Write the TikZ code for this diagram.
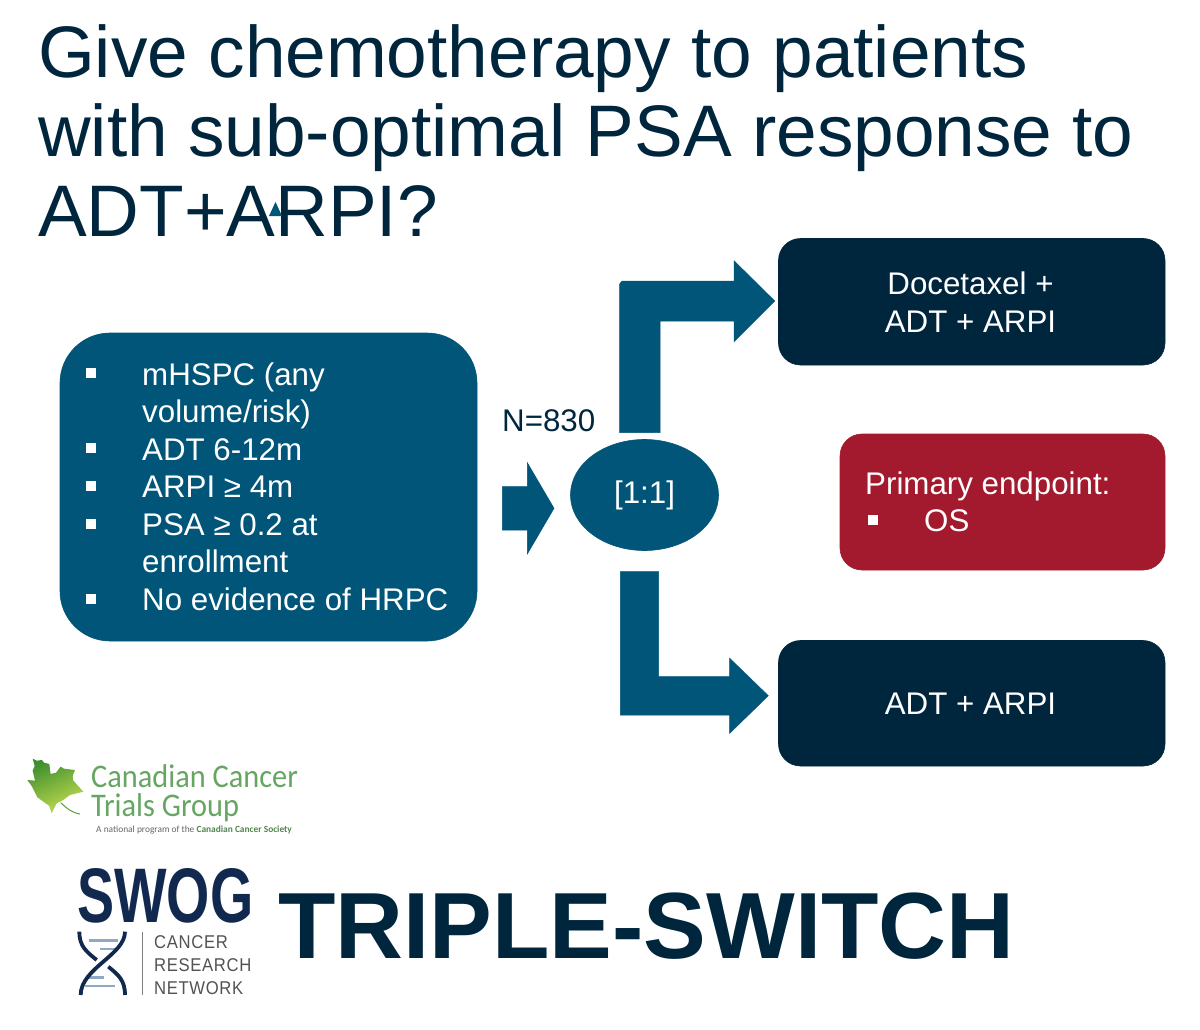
\documentclass[tikz,border=0pt]{standalone}
\usepackage{fontspec}
\usepackage{graphicx}
\setmainfont{Liberation Sans}
\newfontfamily\logofont{Carlito}
\newfontfamily\netfont[LetterSpace=4]{Liberation Sans}
\usetikzlibrary{shapes.geometric}
\definecolor{navy}{HTML}{00263E}
\definecolor{swognavy}{HTML}{12294F}
\definecolor{teal}{HTML}{005578}
\definecolor{crimson}{HTML}{A31A2E}
\definecolor{leafgreen}{HTML}{66A663}
\definecolor{leafdark}{HTML}{3F8F2E}
\definecolor{leaflight}{HTML}{C4DC50}
\definecolor{rungblue}{HTML}{8FA9C4}
\tikzset{
  titletext/.style={anchor=base west,inner sep=0pt,text=navy,font=\fontsize{73}{78}\selectfont},
  bodytext/.style={anchor=base west,inner sep=0pt,text=white,font=\fontsize{31.3}{37}\selectfont},
  centertext/.style={anchor=base,inner sep=0pt,text=white,font=\fontsize{31.3}{37}\selectfont},
  box/.style={draw=#1,fill=#1,line width=0.6pt},
  blockarrow/.style={fill=teal,draw=teal,line width=0.5pt,line join=miter},
  bullet/.style={fill=white,draw=none,minimum size=10pt,inner sep=0pt,rectangle},
  logotext/.style={anchor=base west,inner sep=0pt,text=leafgreen,font=\logofont\fontsize{33}{30}\selectfont},
  nettext/.style={anchor=base west,inner sep=0pt,text=black!68,font=\netfont\fontsize{18.5}{18.5}\selectfont},
  strand/.style={draw=swognavy,line width=3.8pt},
  rung/.style={draw=rungblue,line width=2.8pt}
}
\begin{document}
\begin{tikzpicture}[x=1pt,y=-1pt]
\useasboundingbox (0,0) rectangle (1200,1030);
\fill[white] (0,0) rectangle (1200,1030);
% title
\node[titletext] (t1) at (38,78) {Give chemotherapy to patients};
\node[titletext] (t2) at (38,157) {with sub-optimal PSA response to};
\node[titletext] (t3) at (38,236) {ADT+ARPI?};
\fill[teal] (269,216) -- (275.5,202) -- (282,216) -- cycle;
% left box
\draw[box=teal,rounded corners=50pt] (60,333) rectangle (477,641);
\foreach \y in {373,448,486,524,599}{\node[bullet] at (91,\y) {};}
\node[bodytext] (l1) at (142,385) {mHSPC (any};
\node[bodytext] (l2) at (142,422.5) {volume/risk)};
\node[bodytext] (l3) at (142,460) {ADT 6-12m};
\node[bodytext] (l4) at (142,497.5) {ARPI ≥ 4m};
\node[bodytext] (l5) at (142,535) {PSA ≥ 0.2 at};
\node[bodytext] (l6) at (142,572.5) {enrollment};
\node[bodytext] (l7) at (142,610) {No evidence of HRPC};
% N
\node[anchor=base west,inner sep=0pt,text=navy,font=\fontsize{31.3}{37}\selectfont] (n) at (502,431) {N=830};
% block arrows
\draw[blockarrow] (502.3,486.7) -- (527.3,486.7) -- (527.3,462.7) -- (554,508.3) -- (527.3,554) -- (527.3,530) -- (502.3,530) -- cycle;
\draw[blockarrow] (619.5,432.7) -- (619.5,284) to[out=-90,in=180] (622.5,281) -- (734,281) -- (734,260.7) -- (774.7,301) -- (734,341.7) -- (734,321) -- (660,321) -- (660,432.7) -- cycle;
\draw[blockarrow] (620.3,571.7) -- (658.7,571.7) -- (658.7,676.7) -- (729.7,676.7) -- (729.7,658.3) -- (768.3,695.7) -- (729.7,733.3) -- (729.7,715) -- (620.3,715) -- cycle;
% ellipse
\node[ellipse,box=teal,minimum width=148pt,minimum height=111pt,inner sep=0pt,text=white,font=\fontsize{31.3}{37}\selectfont] (r) at (644.5,495) {[1:1]};
% right boxes
\draw[box=navy,rounded corners=22pt] (778.5,238.5) rectangle (1165,365);
\node[centertext] (d1) at (970.5,294) {Docetaxel +};
\node[centertext] (d2) at (970.5,332) {ADT + ARPI};
\draw[box=crimson,rounded corners=22pt] (840,434) rectangle (1165,570);
\node[bodytext] (p1) at (865,494) {Primary endpoint:};
\node[bullet] at (873,520) {};
\node[bodytext] (p2) at (924,531) {OS};
\draw[box=navy,rounded corners=22pt] (778.5,640.5) rectangle (1165,766);
\node[centertext] (a1) at (970.5,714) {ADT + ARPI};
% CCTG logo
\begin{scope}[shift={(20,750)},x=0.3333pt,y=-0.3333pt]
  \shade[left color=leafdark,right color=leaflight,shading angle=25]
    (38,26) -- (50,32) -- (66,30) -- (72,38) -- (88,42) -- (90,58) -- (92,72) -- (108,68) -- (122,50) -- (132,56) -- (165,60) -- (158,78) -- (160,92) -- (190,125) -- (150,135) -- (130,150) -- (110,160) -- (95,190) -- (88,168) -- (52,142) -- (35,108) -- (22,90) -- (45,92) -- (38,62) -- (44,48) -- cycle;
  \draw[leafdark!80!leaflight,line width=1pt] (122,158) .. controls (140,175) and (155,188) .. (180,192);
\end{scope}
\node[logotext] (c1) at (91,787) {\scalebox{0.92}[1]{Canadian Cancer}};
\node[logotext] (c2) at (91,816) {\scalebox{0.92}[1]{Trials Group}};
\node[anchor=base west,inner sep=0pt,font=\logofont\fontsize{9.4}{9.4}\selectfont] (c3) at (96,832.5) {\textcolor{black!60}{A national program of the} \textcolor{leafgreen!80!black}{\textbf{Canadian Cancer Society}}};
% SWOG logo
\node[anchor=south west,inner sep=0pt,text=swognavy] (s) at (77,923) {\resizebox{176pt}{54pt}{\textbf{SWOG}}};
\begin{scope}[shift={(70,925)},x=0.3333pt,y=-0.3333pt]
  \draw[rung] (58,47) -- (145,47);
  \draw[rung] (90,72) -- (135,72);
  \draw[rung] (58,158) -- (102,158);
  \draw[rung] (45,183) -- (135,183);
  \draw[strand] (28,20) .. controls (28,65) and (50,80) .. (80,105);
  \draw[strand] (115,125) .. controls (145,150) and (165,165) .. (165,210);
  \draw[strand] (165,20) .. controls (165,90) and (32,130) .. (32,210);
\end{scope}
\draw[black!50,line width=0.8pt] (142,932) -- (142,995);
\node[nettext] (n1) at (154,948) {\scalebox{0.9}[1]{CANCER}};
\node[nettext] (n2) at (154,971) {\scalebox{0.9}[1]{RESEARCH}};
\node[nettext] (n3) at (154,994) {\scalebox{0.9}[1]{NETWORK}};
% name
\node[anchor=base west,inner sep=0pt,text=navy,font=\bfseries\fontsize{94}{94}\selectfont] (ts) at (278,958) {TRIPLE-SWITCH};
\end{tikzpicture}
\end{document}
